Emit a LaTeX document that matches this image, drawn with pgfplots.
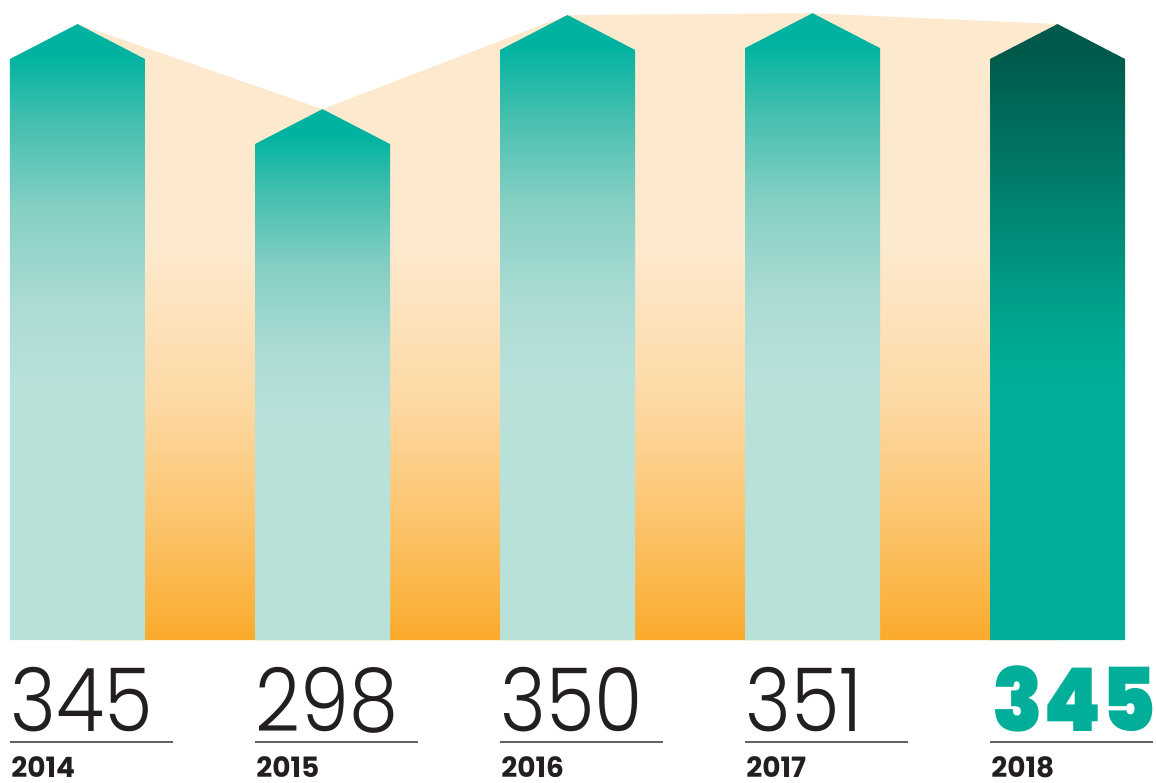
\documentclass[border=0pt]{standalone}
\usepackage{pgfplots}
\pgfplotsset{compat=1.18}
\usepackage{pgfplotstable}
\usepackage{fontspec}
\IfFontExistsTF{Poppins Light}{\newfontfamily\numfont{Poppins Light}}{\newfontfamily\numfont{Lato}}
\IfFontExistsTF{Poppins Black}{\newfontfamily\heavyfont{Poppins Black}}{\newfontfamily\heavyfont{Poppins ExtraBold}}
\IfFontExistsTF{Poppins Bold}{\newfontfamily\yearfont{Poppins Bold}}{\newfontfamily\yearfont{Poppins}[FakeBold=1]}

\definecolor{teal1}{HTML}{00B3A0}
\definecolor{teal2}{HTML}{3FBEAD}
\definecolor{teal3}{HTML}{86CFC4}
\definecolor{teal4}{HTML}{ACDCD5}
\definecolor{teal5}{HTML}{B8E1DA}
\definecolor{dark1}{HTML}{005A4C}
\definecolor{dark2}{HTML}{007F6C}
\definecolor{dark3}{HTML}{00A690}
\definecolor{dark4}{HTML}{00AE9A}
\definecolor{cream}{HTML}{FDE9CD}
\definecolor{or1}{HTML}{FDD9A4}
\definecolor{or2}{HTML}{FCC877}
\definecolor{or3}{HTML}{FBB442}
\definecolor{or4}{HTML}{FBAA2A}
\definecolor{txt}{HTML}{231F20}
\definecolor{rule}{HTML}{626366}
\definecolor{hl}{HTML}{00AE99}

\pgfdeclareverticalshading{barshade}{100bp}{color(0bp)=(teal5); color(45.5bp)=(teal5); color(52bp)=(teal4); color(60bp)=(teal3); color(67.5bp)=(teal2); color(72.5bp)=(teal1); color(100bp)=(teal1)}
\pgfdeclareverticalshading{darkshade}{100bp}{color(0bp)=(dark4); color(45.5bp)=(dark4); color(50.5bp)=(dark3); color(61.5bp)=(dark2); color(72.5bp)=(dark1); color(100bp)=(dark1)}
\pgfdeclareverticalshading{bgshade}{100bp}{color(0bp)=(or4); color(25bp)=(or4); color(28.2bp)=(or3); color(36.2bp)=(or2); color(44.1bp)=(or1); color(56.1bp)=(cream); color(100bp)=(cream)}

\pgfplotstableread{
x year value
0 2014 345
1 2015 298
2 2016 350
3 2017 351
4 2018 345
}\datatable

\def\ymn{24}
\def\hw{0.2755}
\def\tip{19.3}

\begin{document}
\begin{tikzpicture}
\path[use as bounding box] (0,0) rectangle (578pt,391pt);
\begin{axis}[
  at={(0pt,71pt)}, anchor=south west,
  scale only axis, width=578pt, height=320pt,
  xmin=-0.3163, xmax=4.402, ymin=24, ymax=377.6,
  hide axis, clip=false,
]
% background ribbon through the arrow tips
\addplot[draw=none, shading=bgshade, forget plot]
  table[x=x, y expr=\thisrow{value}+\tip] {\datatable} -- (axis cs:4,\ymn) -- (axis cs:0,\ymn) -- cycle;
% arrow bars
\pgfplotsinvokeforeach{0,1,2,3,4}{
  \pgfplotstablegetelem{#1}{value}\of\datatable
  \edef\v{\pgfplotsretval}
  \pgfmathsetmacro\xl{#1-\hw}
  \pgfmathsetmacro\xr{#1+\hw}
  \pgfmathsetmacro\vt{\v+\tip}
  \ifnum#1=4 \def\shd{darkshade}\else\def\shd{barshade}\fi
  \edef\temp{\noexpand\addplot[draw=none, shading=\shd, forget plot] coordinates {(\xl,\ymn) (\xl,\v) (#1,\vt) (\xr,\v) (\xr,\ymn)} -- cycle;}
  \temp
  \pgfplotstablegetelem{#1}{year}\of\datatable
  \edef\yr{\pgfplotsretval}
  \ifnum#1=4
    \edef\temp{\noexpand\node[anchor=base west, inner sep=0pt, text=hl, font=\noexpand\heavyfont\noexpand\fontsize{44pt}{44pt}\noexpand\selectfont] at ([xshift=1pt,yshift=-45.5pt]axis cs:\xl,\ymn) {\noexpand\scalebox{0.94}[1]{\v}};}
  \else
    \edef\temp{\noexpand\node[anchor=base west, inner sep=0pt, text=txt, font=\noexpand\numfont\noexpand\fontsize{44pt}{44pt}\noexpand\selectfont] at ([yshift=-45.5pt]axis cs:\xl,\ymn) {\noexpand\scalebox{0.89}[1]{\v}};}
  \fi
  \temp
  \edef\temp{\noexpand\draw[rule, line width=0.9pt] ([yshift=-51pt]axis cs:\xl,\ymn) -- ++(81.5pt,0pt);}
  \temp
  \edef\temp{\noexpand\node[anchor=base west, inner sep=0pt, text=txt, font=\noexpand\yearfont\noexpand\fontsize{14pt}{14pt}\noexpand\selectfont] at ([xshift=0.5pt,yshift=-68.5pt]axis cs:\xl,\ymn) {\yr};}
  \temp
}
\end{axis}
\end{tikzpicture}
\end{document}
